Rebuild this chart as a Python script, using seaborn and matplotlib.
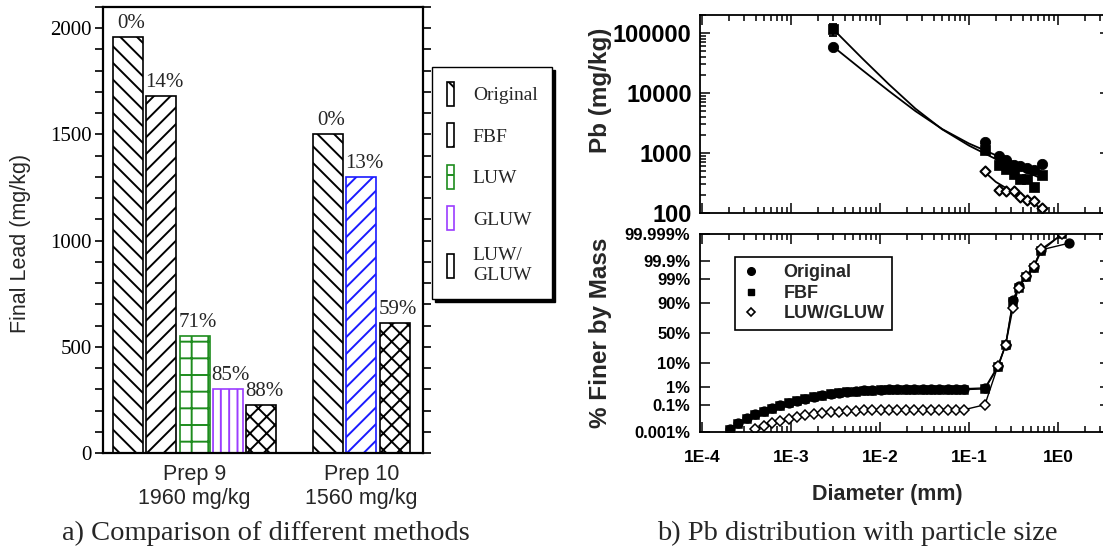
import statistics

import matplotlib
matplotlib.use("Agg")
import matplotlib.pyplot as plt
from matplotlib.lines import Line2D
from matplotlib.patches import Patch
from matplotlib.ticker import LogLocator, MultipleLocator, NullFormatter, NullLocator
import numpy as np
import pandas as pd
import seaborn as sns

# a) final lead after each treatment
groups = ["Prep 9\n1960 mg/kg", "Prep 10\n1560 mg/kg"]
prep9_methods = ["Original", "FBF", "LUW", "GLUW", "LUW/\nGLUW"]
prep9_lead = [1960, 1680, 550, 300, 225]
prep9_removal = ["0%", "14%", "71%", "85%", "88%"]
prep10_methods = ["Original", "FBF", "LUW/\nGLUW"]
prep10_lead = [1500, 1300, 610]
prep10_removal = ["0%", "13%", "59%"]

# b) top: Pb content against particle size
pb_diam = [0.003, 0.151, 0.216, 0.258, 0.318, 0.377, 0.449, 0.533, 0.656]
pb_original = [59000, 1520, 890, 765, 630, 605, 560, 520, 655]
pb_fbf = [115000, 1120, 630, 535, 440, 375, 375, 275, 425]
pb_fbf_err_low = [25000]
pb_fbf_err_high = [25000]
pb_luw_diam = [0.151, 0.216, 0.258, 0.318, 0.377, 0.449, 0.533, 0.656]
pb_luw = [500, 245, 235, 235, 185, 165, 158, 122]

# fitted curves as drawn in the figure
fit_diam = [0.003, 0.0063, 0.0126, 0.025, 0.05, 0.1, 0.2, 0.4, 0.65]
fit_original = [58900, 24300, 10800, 5000, 2510, 1440, 920, 630, 494]
fit_fbf = [114800, 38000, 13960, 5500, 2480, 1330, 794, 507, 380]
fit_luw_diam = [0.151, 0.2, 0.3, 0.45, 0.66]
fit_luw = [480, 330, 230, 165, 118]

# b) bottom: cumulative % finer by mass
psd_diam = [2.07e-4, 2.57e-4, 3.19e-4, 3.96e-4, 4.92e-4, 6.11e-4, 7.59e-4, 9.42e-4,
            1.17e-3, 1.45e-3, 1.80e-3, 2.24e-3, 2.78e-3, 3.45e-3, 4.29e-3, 5.32e-3,
            6.61e-3, 8.20e-3, 1.02e-2, 1.26e-2, 1.57e-2, 1.95e-2, 2.42e-2, 3.01e-2,
            3.73e-2, 4.63e-2, 5.75e-2, 7.14e-2, 8.87e-2,
            0.151, 0.212, 0.258, 0.312, 0.361, 0.44, 0.533, 0.65]
psd_original = [0.0017, 0.0055, 0.012, 0.024, 0.04, 0.062, 0.09, 0.135, 0.175, 0.23,
                0.30, 0.38, 0.44, 0.51, 0.57, 0.62, 0.68, 0.70, 0.73, 0.76, 0.78, 0.79,
                0.80, 0.80, 0.81, 0.81, 0.82, 0.82, 0.82,
                0.9, 8, 31, 92, 97.9, 99.3, 99.79, 99.983]
psd_original_end = (1.32, 99.9945)
psd_fbf = [0.0014, 0.0045, 0.010, 0.021, 0.036, 0.056, 0.083, 0.125, 0.165, 0.22,
           0.28, 0.35, 0.41, 0.47, 0.53, 0.58, 0.62, 0.65, 0.67, 0.69, 0.70, 0.71,
           0.72, 0.72, 0.73, 0.73, 0.73, 0.74, 0.74,
           0.8, 7, 30, 91, 97.5, 99.2, 99.75, 99.98]
psd_fbf_end = (1.12, 99.999)
psd_luw = [0.0017, 0.0032, 0.005, 0.0075, 0.0105, 0.015, 0.019, 0.024, 0.028, 0.033,
           0.036, 0.039, 0.041, 0.043, 0.044, 0.045, 0.046, 0.046, 0.047, 0.047, 0.047,
           0.047, 0.048, 0.048, 0.048, 0.048,
           0.1, 8, 30, 86, 97.5, 99.3, 99.8, 99.985]
psd_luw_end = (1.12, 99.999)

W, H = 1103, 557


def box(x0, y0, x1, y1):
    # pixel box (top-left origin) -> figure fraction rect
    return [x0 / W, 1 - y1 / H, (x1 - x0) / W, (y1 - y0) / H]


sns.set_theme(style="ticks")
plt.rcParams["font.family"] = ["Liberation Sans", "DejaVu Sans"]
plt.rcParams["hatch.linewidth"] = 1.4
SERIF = ["Liberation Serif", "DejaVu Serif"]

fig = plt.figure(figsize=(W / 100, H / 100), dpi=100)

# ---------------- a) bar chart ----------------
rows = []
slot = 0
group_centers = []
for grp, meths, vals, labs in [(groups[0], prep9_methods, prep9_lead, prep9_removal),
                               (groups[1], prep10_methods, prep10_lead, prep10_removal)]:
    start = slot
    for m, v, lab in zip(meths, vals, labs):
        rows.append({"prep": grp, "method": m, "lead": v, "removal": lab, "slot": slot})
        slot += 1
    group_centers.append((start + slot - 1) / 2)
    slot += 1
bars = pd.DataFrame(rows)

ax = fig.add_axes(box(103, 7, 423, 453))
sns.barplot(data=bars, x="slot", y="lead", hue="method", hue_order=prep9_methods,
            palette={m: "white" for m in prep9_methods}, native_scale=True,
            dodge=False, width=0.9, errorbar=None, edgecolor="black",
            linewidth=1.2, legend=False, ax=ax)

style = {"Original": ("\\\\", "black"), "FBF": ("//", "black"), "LUW": ("+", "#1e8c1e"),
         "GLUW": ("||", "#9b3cff"), "LUW/\nGLUW": ("xx", "black")}
special_edge = {(groups[1], "FBF"): "#1a1aff"}

for patch in ax.patches:
    if patch.get_height() <= 0:
        continue
    cx = patch.get_x() + patch.get_width() / 2
    row = bars.iloc[(bars["slot"] - cx).abs().argmin()]
    hatch, edge = style[row["method"]]
    edge = special_edge.get((row["prep"], row["method"]), edge)
    patch.set_hatch(hatch)
    patch.set_edgecolor(edge)
    patch.set_facecolor("white")
    ax.annotate(row["removal"], xy=(cx, patch.get_height()), xytext=(2, 3),
                textcoords="offset points", ha="center", va="bottom",
                fontsize=15, family=SERIF)

ax.set_xlim(-0.75, 8.85)
ax.set_ylim(0, 2100)
ax.set_xticks(group_centers, groups)
ax.set_yticks([0, 500, 1000, 1500, 2000])
ax.yaxis.set_minor_locator(MultipleLocator(100))
ax.tick_params(axis="x", length=0, pad=8, labelsize=15.5)
ax.tick_params(axis="y", which="both", direction="out", length=6, width=1.2,
               left=True, right=True, labelsize=15, labelfontfamily="Liberation Serif",
               pad=2, colors="black")
ax.set_xlabel("")
ax.set_ylabel("Final Lead (mg/kg)", fontsize=15.5)
ax.yaxis.set_label_coords(-0.225, 0.47)
for sp in ax.spines.values():
    sp.set_visible(True)
    sp.set_linewidth(1.6)
    sp.set_color("black")

leg_handles = [Patch(facecolor="white", edgecolor=style[m][1], hatch=style[m][0][0],
                     lw=1.2) for m in prep9_methods]
leg = ax.legend(leg_handles, prep9_methods, loc="upper left",
                bbox_to_anchor=(432 / W, 1 - 67 / H), bbox_transform=fig.transFigure,
                borderaxespad=0, frameon=True, fancybox=False, framealpha=1,
                edgecolor="black", prop={"family": SERIF, "size": 14},
                handlelength=0.4, handleheight=1.55, handletextpad=0.95,
                labelspacing=0.88, borderpad=0.75,
                shadow={"ox": 2.2, "oy": -2.2, "facecolor": "black",
                        "edgecolor": "black", "alpha": 1})
leg.get_frame().set_linewidth(1.0)

fig.text(266 / W, 1 - 533 / H, "a) Comparison of different methods",
         family=SERIF, fontsize=20.5, ha="center", va="center")

# ---------------- b) top: Pb (mg/kg) ----------------
xlim = (9.5e-5, 3.84)
BOLD = {"fontweight": "bold"}

ax1 = fig.add_axes(box(700, 15, 1110, 213))
ax1.set_xscale("log")
ax1.set_yscale("log")
for fx, fy in [(fit_diam, fit_original), (fit_diam, fit_fbf), (fit_luw_diam, fit_luw)]:
    sns.lineplot(x=fx, y=fy, color="black", lw=1.3, estimator=None, sort=False, ax=ax1)
ax1.errorbar(pb_diam[:1], pb_fbf[:1], yerr=[pb_fbf_err_low, pb_fbf_err_high],
             fmt="none", ecolor="black", elinewidth=1.3, capsize=3, capthick=1.3)
sns.scatterplot(x=pb_diam, y=pb_original, marker="o", s=55, color="black",
                edgecolor="black", ax=ax1, zorder=3)
sns.scatterplot(x=pb_diam, y=pb_fbf, marker="s", s=42, color="black",
                edgecolor="black", ax=ax1, zorder=3)
sns.scatterplot(x=pb_luw_diam, y=pb_luw, marker="D", s=26, facecolor="white",
                edgecolor="black", linewidth=1.5, ax=ax1, zorder=3)
ax1.set_xlim(*xlim)
ax1.set_ylim(100, 2e5)
ax1.set_yticks([100, 1000, 10000, 100000], ["100", "1000", "10000", "100000"])
ax1.yaxis.set_minor_locator(LogLocator(base=10, subs=np.arange(2, 10)))
ax1.yaxis.set_minor_formatter(NullFormatter())
ax1.set_xticks([1e-4, 1e-3, 1e-2, 1e-1, 1e0])
ax1.xaxis.set_minor_locator(LogLocator(base=10, subs=np.arange(2, 10)))
ax1.tick_params(axis="both", which="both", direction="in", top=True, right=True,
                labelbottom=False, colors="black", width=1.1)
ax1.tick_params(which="major", length=7)
ax1.tick_params(which="minor", length=4)
ax1.tick_params(axis="y", labelsize=17, pad=6)
for lab in ax1.get_yticklabels():
    lab.set_fontweight("bold")
ax1.set_ylabel("Pb (mg/kg)", fontsize=17.5, **BOLD)
ax1.yaxis.set_label_coords(-0.215, 0.62)
for sp in ax1.spines.values():
    sp.set_linewidth(1.3)
    sp.set_color("black")

# ---------------- b) bottom: % finer by mass ----------------
_nd = statistics.NormalDist()


def to_z(p):
    p = np.clip(np.asarray(p, dtype=float) / 100.0, 1e-12, 1 - 1e-12)
    return np.vectorize(_nd.inv_cdf, otypes=[float])(p)


def from_z(z):
    return 100.0 * np.vectorize(_nd.cdf, otypes=[float])(np.asarray(z, dtype=float))


ax2 = fig.add_axes(box(700, 234, 1110, 432))
ax2.set_xscale("log")
ax2.set_yscale("function", functions=(to_z, from_z))

series = [
    (psd_diam + [psd_original_end[0]], psd_original + [psd_original_end[1]],
     dict(marker="o", markersize=6.3, markerfacecolor="black")),
    (psd_diam + [psd_fbf_end[0]], psd_fbf + [psd_fbf_end[1]],
     dict(marker="s", markersize=5.3, markerfacecolor="black")),
    (psd_diam[3:] + [psd_luw_end[0]], psd_luw + [psd_luw_end[1]],
     dict(marker="D", markersize=4.6, markerfacecolor="white")),
]
for xs, ys, mk in series:
    sns.lineplot(x=xs, y=ys, color="black", lw=1.0, estimator=None, sort=False,
                 markeredgecolor="black", markeredgewidth=1.1, ax=ax2, **mk)

ax2.set_xlim(*xlim)
ax2.set_ylim(0.001, 99.999)
pct_ticks = [0.001, 0.1, 1, 10, 50, 90, 99, 99.9, 99.999]
ax2.set_yticks(pct_ticks, ["0.001%", "0.1%", "1%", "10%", "50%", "90%", "99%",
                           "99.9%", "99.999%"])
ax2.yaxis.set_minor_locator(NullLocator())
ax2.set_xticks([1e-4, 1e-3, 1e-2, 1e-1, 1e0], ["1E-4", "1E-3", "1E-2", "1E-1", "1E0"])
ax2.xaxis.set_minor_locator(LogLocator(base=10, subs=np.arange(2, 10)))
ax2.xaxis.set_minor_formatter(NullFormatter())
ax2.tick_params(axis="both", which="both", direction="in", top=True, right=True,
                colors="black", width=1.1)
ax2.tick_params(which="major", length=7)
ax2.tick_params(which="minor", length=4)
ax2.tick_params(axis="y", labelsize=12, pad=7)
ax2.tick_params(axis="x", labelsize=12.5, pad=13)
for lab in ax2.get_yticklabels() + ax2.get_xticklabels():
    lab.set_fontweight("bold")
ax2.set_ylabel("% Finer by Mass", fontsize=17.5, **BOLD)
ax2.yaxis.set_label_coords(-0.215, 0.5)
ax2.set_xlabel("Diameter (mm)", fontsize=15.5, **BOLD)
ax2.xaxis.set_label_coords(0.456, -0.263)
for sp in ax2.spines.values():
    sp.set_linewidth(1.3)
    sp.set_color("black")

psd_handles = [Line2D([], [], ls="none", marker="o", ms=5.5, color="black"),
               Line2D([], [], ls="none", marker="s", ms=5, color="black"),
               Line2D([], [], ls="none", marker="D", ms=4.5, mfc="white", mec="black",
                      mew=1.2)]
leg2 = ax2.legend(psd_handles, ["Original", "FBF", "LUW/GLUW"], loc="upper left",
                  bbox_to_anchor=(735 / W, 1 - 257 / H), bbox_transform=fig.transFigure,
                  borderaxespad=0, frameon=True, fancybox=False, framealpha=1,
                  edgecolor="black", prop={"weight": "bold", "size": 13},
                  handlelength=1.0, handletextpad=1.3, labelspacing=0.2,
                  borderpad=0.4)
leg2.get_frame().set_linewidth(1.2)

fig.text(857 / W, 1 - 533 / H, "b) Pb distribution with particle size",
         family=SERIF, fontsize=20.5, ha="center", va="center")

fig.savefig("out.png", dpi=100)
